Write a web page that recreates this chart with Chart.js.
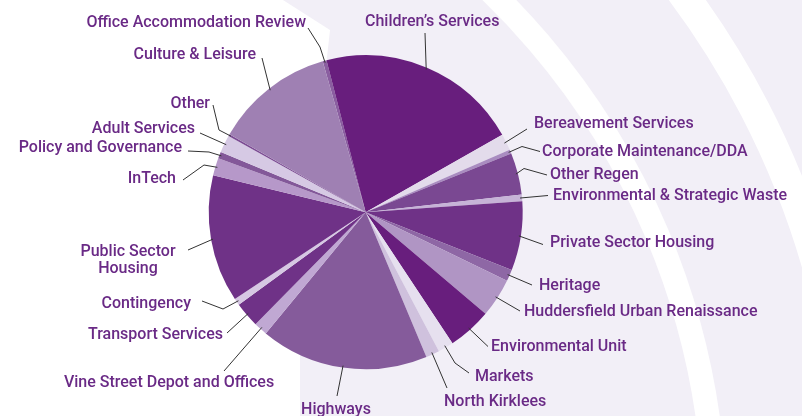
<!DOCTYPE html>
<html>
<head>
<meta charset="utf-8">
<script src="https://cdn.jsdelivr.net/npm/chart.js@4"></script>
<style>
  html, body { margin: 0; padding: 0; background: #fff; }
  #wrap { width: 802px; height: 416px; position: relative; }
</style>
</head>
<body>
<div id="wrap"><canvas id="myChart" width="802" height="416"></canvas></div>
<script>
// services, clockwise from the top
const categories = ["Office Accommodation Review", "Children\u2019s Services", "Bereavement Services",
  "Corporate Maintenance/DDA", "Other Regen", "Environmental & Strategic Waste", "Private Sector Housing",
  "Heritage", "Huddersfield Urban Renaissance", "Environmental Unit", "Markets", "North Kirklees",
  "Highways", "Vine Street Depot and Offices", "Transport Services", "Contingency", "Public Sector Housing",
  "InTech", "Policy and Governance", "Adult Services", "Other", "Culture & Leisure"];
// share of spend, %
const shares = [0.4, 20.8, 1.7, 0.4, 4.3, 0.7, 7.1, 1.2, 4.0, 4.5, 1.6, 1.4,
  17.3, 1.4, 2.6, 0.7, 13.1, 1.8, 0.7, 1.8, 0.2, 12.3];
const colours = ["#8a5ea0", "#681e7d", "#e3dbeb", "#a98cc0", "#7a4892", "#c6b3d7", "#6f3287",
  "#8e67a5", "#b095c4", "#681e7d", "#e6e0ef", "#cfc1dd", "#855b9b", "#c0a8d3", "#6f3287",
  "#d6c8e3", "#6f3287", "#b698c9", "#835899", "#d6c9e4", "#7c4c94", "#9f80b3"];

// where each label sits and how its leader line bends
const labelSpots = [
  { x: 306, y: 23, align: "right", pts: [[320, 47], [308, 28]] },
  { x: 365, y: 22, align: "left", pts: [[425, 33]] },
  { x: 534, y: 124, align: "left", pts: [[527, 129]] },
  { x: 542, y: 152, align: "left", pts: [[522, 146.5], [540, 151.5]] },
  { x: 550, y: 175, align: "left", pts: [[524, 168.5], [547, 175]] },
  { x: 553, y: 196, align: "left", pts: [[548, 195.5]] },
  { x: 550, y: 243, align: "left", pts: [[543, 244.5]] },
  { x: 539, y: 286, align: "left", pts: [[532, 285]] },
  { x: 524, y: 312, align: "left", pts: [[520, 311]] },
  { x: 491, y: 347, align: "left", pts: [[488, 346.5]] },
  { x: 475, y: 377, align: "left", pts: [[455, 363], [469, 373]] },
  { x: 444, y: 402, align: "left", pts: [[447, 388]] },
  { x: 336, y: 410, align: "center", pts: [[337, 396]] },
  { x: 169, y: 383, align: "center", pts: [[224, 371]] },
  { x: 223, y: 335, align: "right", pts: [[227, 333]] },
  { x: 191, y: 304, align: "right", pts: [[223, 309], [202, 301]] },
  { x: 128, y: 252, align: "center", pts: [[188, 250]], lines: ["Public Sector", "Housing"] },
  { x: 176, y: 179, align: "right", pts: [[204, 165], [183, 180]] },
  { x: 182, y: 148, align: "right", pts: [[209, 152], [188, 151]] },
  { x: 195, y: 129, align: "right", pts: [[200, 133]] },
  { x: 210, y: 104, align: "right", pts: [[219, 130], [213, 105]] },
  { x: 256, y: 55, align: "right", pts: [[262, 58]] }
];

// pale swoosh behind the chart
const backdrop = {
  id: "backdrop",
  beforeDraw(chart) {
    const ctx = chart.ctx;
    ctx.save();
    ctx.fillStyle = "#ffffff";
    ctx.fillRect(0, 0, chart.width, chart.height);
    ctx.fillStyle = "#f2eff7";
    ctx.beginPath();
    ctx.moveTo(283, 0);
    ctx.lineTo(802, 0);
    ctx.lineTo(802, 416);
    ctx.lineTo(300, 416);
    ctx.lineTo(300, 300);
    ctx.lineTo(330, 30);
    ctx.closePath();
    ctx.fill();
    ctx.strokeStyle = "#ffffff";
    ctx.lineWidth = 24;
    ctx.beginPath();
    ctx.arc(-20, 520, 735, -1.0, 0.2);
    ctx.stroke();
    ctx.lineWidth = 30;
    ctx.beginPath();
    ctx.arc(0, 500, 850, -0.7, 0.2);
    ctx.stroke();
    ctx.restore();
  }
};

const leaderLabels = {
  id: "leaderLabels",
  afterDatasetsDraw(chart) {
    const ctx = chart.ctx;
    const arcs = chart.getDatasetMeta(0).data;
    ctx.save();
    ctx.font = "500 16px Roboto";
    ctx.fillStyle = "#6a2a86";
    ctx.strokeStyle = "#333333";
    ctx.lineWidth = 1;
    ctx.textBaseline = "middle";
    arcs.forEach((arc, i) => {
      const spot = labelSpots[i];
      const p = arc.getProps(["x", "y", "startAngle", "endAngle", "outerRadius"], true);
      const mid = (p.startAngle + p.endAngle) / 2;
      ctx.beginPath();
      ctx.moveTo(p.x + Math.cos(mid) * (p.outerRadius - 2), p.y + Math.sin(mid) * (p.outerRadius - 2));
      spot.pts.forEach(pt => ctx.lineTo(pt[0], pt[1]));
      ctx.stroke();
      ctx.textAlign = spot.align;
      const lines = spot.lines || [categories[i]];
      lines.forEach((t, k) => ctx.fillText(t, spot.x, spot.y + k * 17));
    });
    ctx.restore();
  }
};

var ctx = document.getElementById("myChart").getContext("2d");
var chart = new Chart(ctx, {
  type: "pie",
  data: {
    labels: categories,
    datasets: [{
      data: shares,
      backgroundColor: colours,
      borderWidth: 0
    }]
  },
  options: {
    responsive: false,
    animation: false,
    rotation: -15.9,
    layout: { padding: { left: 208.7, right: 279.3, top: 55.3, bottom: 46.7 } },
    plugins: {
      legend: { display: false },
      tooltip: { enabled: false }
    }
  },
  plugins: [backdrop, leaderLabels]
});
</script>
</body>
</html>
